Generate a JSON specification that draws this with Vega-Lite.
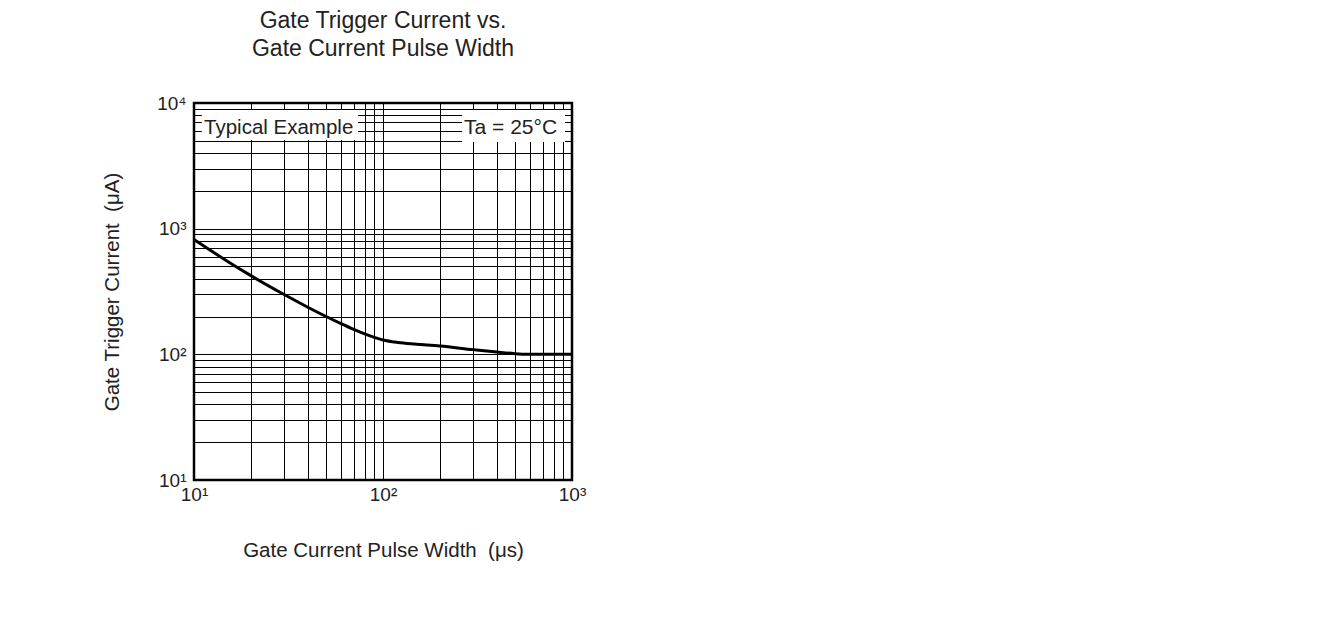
{
  "$schema": "https://vega.github.io/schema/vega-lite/v6.json",
  "autosize": "none",
  "width": 378,
  "height": 377,
  "padding": {"left": 194, "top": 103, "right": 755, "bottom": 148},
  "background": "white",
  "config": {
    "font": "Liberation Sans",
    "view": {"stroke": "black", "strokeWidth": 2.5},
    "axis": {
      "domain": false,
      "ticks": false,
      "grid": true,
      "gridColor": "black",
      "gridOpacity": 1,
      "gridWidth": 1,
      "labelFont": "Liberation Sans",
      "labelFontSize": 19,
      "labelColor": "#222222",
      "labelFlush": false,
      "titleFont": "Liberation Sans",
      "titleFontSize": 20.5,
      "titleFontWeight": "normal",
      "titleColor": "#222222"
    }
  },
  "title": {
    "text": ["Gate Trigger Current vs.", "Gate Current Pulse Width"],
    "fontSize": 23,
    "fontWeight": "normal",
    "color": "#222222",
    "font": "Liberation Sans",
    "anchor": "middle",
    "lineHeight": 28,
    "offset": 33
  },
  "datasets": {
    "curve": [
      {"width": 10, "current": 820},
      {"width": 15, "current": 551},
      {"width": 20, "current": 423},
      {"width": 30, "current": 299},
      {"width": 40, "current": 237},
      {"width": 50, "current": 200},
      {"width": 60, "current": 175.5},
      {"width": 70, "current": 158},
      {"width": 80, "current": 145.4},
      {"width": 90, "current": 136.3},
      {"width": 100, "current": 130},
      {"width": 120, "current": 124.2},
      {"width": 150, "current": 120.5},
      {"width": 200, "current": 116.5},
      {"width": 300, "current": 109},
      {"width": 400, "current": 104.3},
      {"width": 500, "current": 101.3},
      {"width": 600, "current": 100.2},
      {"width": 700, "current": 100},
      {"width": 1000, "current": 100}
    ],
    "boxes": [
      {"x1": 11.0, "x2": 73.8, "y1": 5081, "y2": 8796, "label": "Typical Example", "tx": 11.3, "ty": 6325, "align": "left"},
      {"x1": 262, "x2": 918, "y1": 4897, "y2": 8796, "label": "Ta = 25°C", "tx": 473, "ty": 6325, "align": "center"}
    ]
  },
  "layer": [
    {
      "data": {"name": "boxes"},
      "mark": {"type": "rect", "fill": "white", "stroke": null},
      "encoding": {
        "x": {"field": "x1", "type": "quantitative", "scale": {"type": "log", "domain": [10, 1000]}},
        "x2": {"field": "x2"},
        "y": {"field": "y1", "type": "quantitative", "scale": {"type": "log", "domain": [10, 10000]}},
        "y2": {"field": "y2"}
      }
    },
    {
      "data": {"name": "boxes"},
      "transform": [{"filter": "datum.align == 'left'"}],
      "mark": {"type": "text", "align": "left", "baseline": "middle", "fontSize": 20.5, "font": "Liberation Sans", "color": "#222222"},
      "encoding": {
        "x": {"field": "tx", "type": "quantitative"},
        "y": {"field": "ty", "type": "quantitative"},
        "text": {"field": "label"}
      }
    },
    {
      "data": {"name": "boxes"},
      "transform": [{"filter": "datum.align == 'center'"}],
      "mark": {"type": "text", "align": "center", "baseline": "middle", "fontSize": 21, "font": "Liberation Sans", "color": "#222222"},
      "encoding": {
        "x": {"field": "tx", "type": "quantitative"},
        "y": {"field": "ty", "type": "quantitative"},
        "text": {"field": "label"}
      }
    },
    {
      "data": {"name": "curve"},
      "mark": {"type": "line", "color": "black", "strokeWidth": 3, "interpolate": "monotone"},
      "encoding": {
        "x": {
          "field": "width", "type": "quantitative",
          "scale": {"type": "log", "domain": [10, 1000]},
          "axis": {
            "title": "Gate Current Pulse Width\u00a0\u00a0(μs)",
            "titlePadding": 36,
            "labelPadding": 5,
            "values": [10, 20, 30, 40, 50, 60, 70, 80, 90, 100, 200, 300, 400, 500, 600, 700, 800, 900, 1000],
            "labelExpr": "datum.value == 10 ? '10¹' : datum.value == 100 ? '10²' : datum.value == 1000 ? '10³' : ''"
          }
        },
        "y": {
          "field": "current", "type": "quantitative",
          "scale": {"type": "log", "domain": [10, 10000]},
          "axis": {
            "title": "Gate Trigger Current\u00a0\u00a0(μA)",
            "titlePadding": 34,
            "labelPadding": 8,
            "values": [10, 20, 30, 40, 50, 60, 70, 80, 90, 100, 200, 300, 400, 500, 600, 700, 800, 900, 1000, 2000, 3000, 4000, 5000, 6000, 7000, 8000, 9000, 10000],
            "labelExpr": "datum.value == 10 ? '10¹' : datum.value == 100 ? '10²' : datum.value == 1000 ? '10³' : datum.value == 10000 ? '10⁴' : ''"
          }
        }
      }
    }
  ]
}
